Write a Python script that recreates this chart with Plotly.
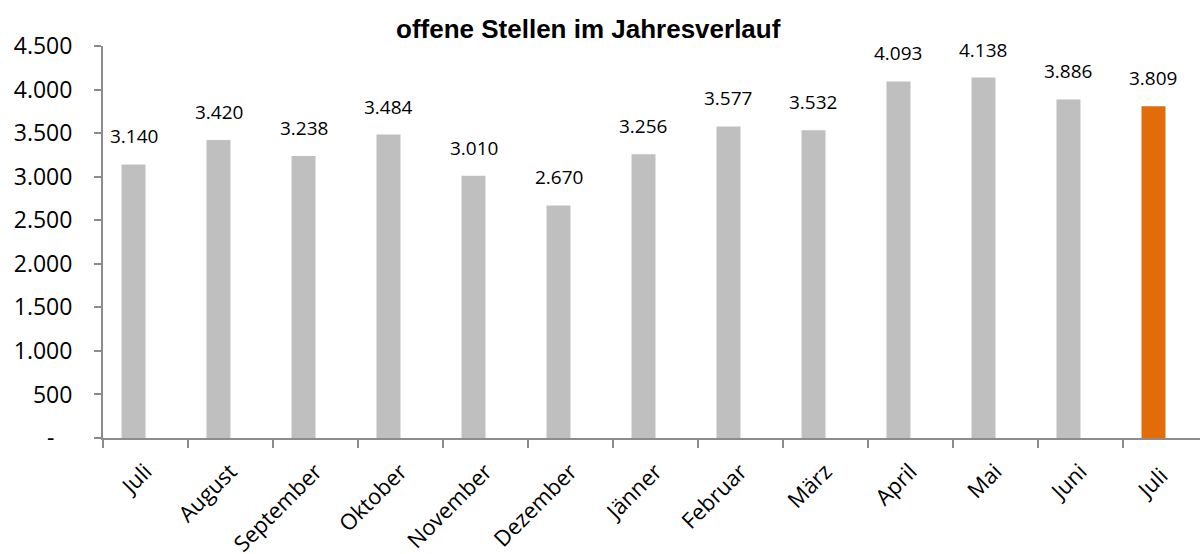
import plotly.graph_objects as go

categories = ["Juli", "August", "September", "Oktober", "November", "Dezember",
              "Jänner", "Februar", "März", "April", "Mai", "Juni", "Juli "]
values = [3140, 3420, 3238, 3484, 3010, 2670, 3256, 3577, 3532, 4093, 4138, 3886, 3809]
y_ticks = [0, 500, 1000, 1500, 2000, 2500, 3000, 3500, 4000, 4500]
y_ticktext = ["-\u00a0\u00a0\u00a0", "500", "1.000", "1.500", "2.000", "2.500",
              "3.000", "3.500", "4.000", "4.500"]
title_text = "offene Stellen im Jahresverlauf"

GRAY = "#BFBFBF"
ORANGE = "#E36C0A"
colors = [GRAY] * (len(values) - 1) + [ORANGE]

def fmt(v):
    return f"{v:,}".replace(",", ".")

fig = go.Figure()
fig.add_trace(go.Bar(
    x=categories, y=values,
    marker=dict(color=colors, line=dict(width=0)),
    width=0.2824, offset=-0.2824,
    hoverinfo="skip",
))

for c, v in zip(categories, values):
    fig.add_annotation(
        x=c, y=v, text=fmt(v), showarrow=False,
        xanchor="center", yanchor="bottom", xshift=-12, yshift=13,
        font=dict(family="Open Sans", size=19, color="#000000"),
    )

fig.add_annotation(
    x=(588 - 103) / 1097, y=1, xref="paper", yref="paper", yanchor="bottom", yshift=0,
    text=f"<b>{title_text}</b>", showarrow=False,
    font=dict(family="Liberation Sans, Arial", size=26, color="#000000"),
)

fig.update_layout(
    width=1200, height=554,
    margin=dict(l=103, r=0, t=46, b=116, autoexpand=False),
    paper_bgcolor="white", plot_bgcolor="white",
    showlegend=False,
    font=dict(family="Open Sans", color="#000000"),
)
fig.update_xaxes(
    type="category", categoryorder="array", categoryarray=categories,
    range=[-0.5, 12.406], automargin=False,
    tickson="boundaries", ticks="outside", ticklen=8, tickwidth=1.5, tickcolor="#8C8C8C",
    showline=True, linecolor="#8C8C8C", linewidth=2,
    tickangle=-45, tickfont=dict(family="Open Sans", size=22, color="#000000"),
    ticklabelstandoff=10,
    showgrid=False, zeroline=False,
)
fig.update_yaxes(
    range=[0, 4500], tickmode="array", tickvals=y_ticks, ticktext=y_ticktext,
    automargin=False,
    ticks="outside", ticklen=7, tickwidth=1.5, tickcolor="#8C8C8C",
    showline=True, linecolor="#8C8C8C", linewidth=2,
    tickfont=dict(family="Open Sans", size=23, color="#000000"),
    ticklabelstandoff=17,
    showgrid=False, zeroline=False,
)

fig.write_html(
    "out.html",
    config={"displayModeBar": False},
    post_script="document.body.style.margin='0';document.body.style.overflow='hidden';",
)
